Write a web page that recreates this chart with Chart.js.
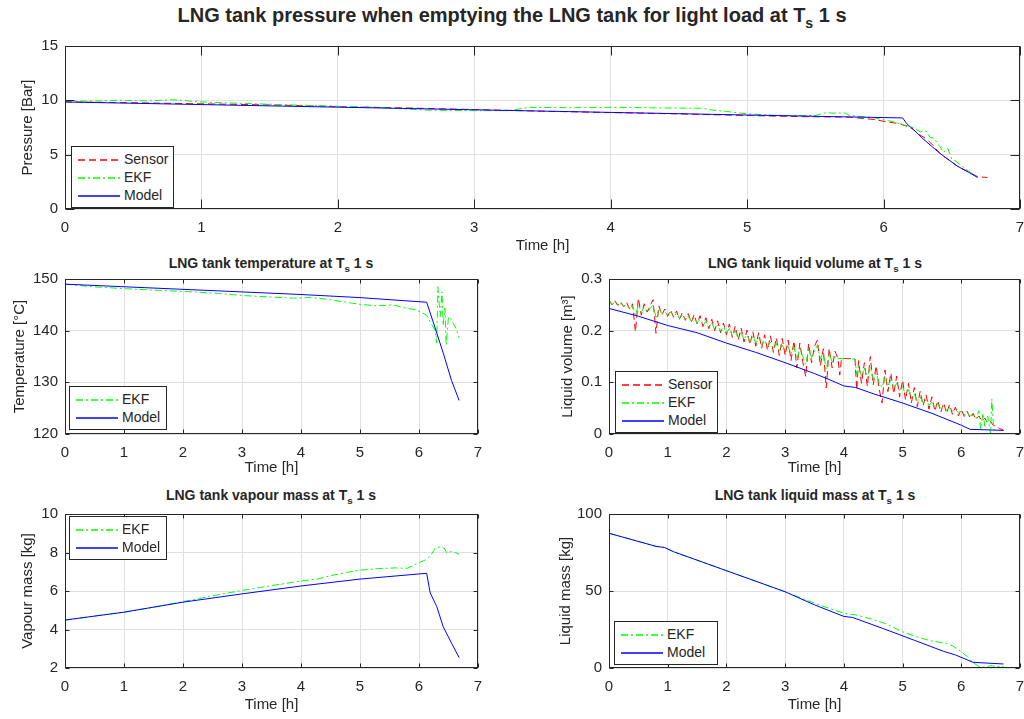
<!DOCTYPE html>
<html lang="en">

<head>
  <meta charset="UTF-8">
  <title>LNG tank pressure when emptying the LNG tank</title>
  <style>
    body {
      margin: 0;
      background: #fff;
      color: #262626;
      font-family: 'Liberation Sans', Arial, sans-serif;
    }

    .page {
      position: relative;
      width: 1024px;
      height: 719px;
      overflow: hidden;
    }

    canvas {
      position: absolute;
    }

    .ttl {
      position: absolute;
      font-weight: bold;
      white-space: nowrap;
      transform: translateX(-50%);
    }

    .ttl sub {
      font-size: 70%;
      vertical-align: -0.4em;
      line-height: 0;
    }

    .lg {
      position: absolute;
      box-sizing: border-box;
      background: #fff;
      border: 1px solid #262626;
      padding: 3px 0 3px 6px;
      font-size: 14px;
    }

    .lg div {
      height: 18px;
      line-height: 18px;
      white-space: nowrap;
    }

    .lg svg {
      vertical-align: middle;
      margin-right: 4px;
    }
  </style>
  <script src="https://cdn.jsdelivr.net/npm/chart.js@4.4.4/dist/chart.umd.js"></script>
</head>

<body>
  <div class="page" id="page">
    <div class="ttl" style="left:512px; top:5px; font-size:20px; line-height:20px;">LNG tank pressure when emptying the LNG tank for light load at T<sub>s</sub> 1 s</div>
    <div class="ttl" style="left:271px; top:256px; font-size:14px; line-height:14px;">LNG tank temperature at T<sub>s</sub> 1 s</div>
    <div class="ttl" style="left:815px; top:256px; font-size:14px; line-height:14px;">LNG tank liquid volume at T<sub>s</sub> 1 s</div>
    <div class="ttl" style="left:271px; top:488px; font-size:14px; line-height:14px;">LNG tank vapour mass at T<sub>s</sub> 1 s</div>
    <div class="ttl" style="left:815px; top:488px; font-size:14px; line-height:14px;">LNG tank liquid mass at T<sub>s</sub> 1 s</div>

    <canvas id="c_press" width="1024" height="232" style="left:0; top:30px;"></canvas>
    <canvas id="c_temp" width="490" height="218" style="left:0; top:262px;"></canvas>
    <canvas id="c_vol" width="484" height="218" style="left:540px; top:262px;"></canvas>
    <canvas id="c_vap" width="490" height="222" style="left:0; top:497px;"></canvas>
    <canvas id="c_liq" width="484" height="222" style="left:540px; top:497px;"></canvas>
  </div>
</body>
<script>
  // ---- data (hours / values) ----
  const xTicks = [0, 1, 2, 3, 4, 5, 6, 7];

  // pressure [Bar]
  const pSensorH = [0, 0.5, 1, 1.5, 2, 2.5, 3, 3.5, 4, 4.5, 5, 5.4, 5.75, 5.93, 6.03, 6.12, 6.21, 6.25, 6.32, 6.37, 6.41, 6.47, 6.54, 6.61, 6.69, 6.76];
  const pSensorV = [9.85, 9.78, 9.68, 9.58, 9.42, 9.3, 9.15, 9.0, 8.87, 8.75, 8.6, 8.5, 8.45, 8.24, 8.0, 7.85, 7.4, 6.95, 6.4, 5.75, 5.15, 4.6, 3.95, 3.5, 2.97, 2.9];
  const pEkfH = [0, 0.2, 0.4, 0.6, 0.8, 1.0, 1.3, 1.6, 2.0, 2.3, 2.65, 3.0, 3.25, 3.4, 3.7, 4.0, 4.3, 4.66, 4.75, 4.85, 5.0, 5.2, 5.5, 5.56, 5.72, 5.75, 5.93, 6.08, 6.14, 6.2, 6.27, 6.31, 6.34, 6.37, 6.41, 6.44, 6.47, 6.5, 6.53, 6.6, 6.69];
  const pEkfV = [9.9, 9.93, 10.0, 9.95, 10.05, 9.85, 9.72, 9.6, 9.45, 9.35, 9.1, 9.05, 9.05, 9.35, 9.32, 9.36, 9.31, 9.27, 9.1, 8.97, 8.76, 8.62, 8.6, 8.83, 8.83, 8.6, 8.4, 8.0, 7.75, 7.6, 7.1, 7.2, 6.6, 6.5, 5.8, 5.2, 5.6, 4.6, 4.4, 3.7, 2.9];
  const pModelH = [0, 1, 2, 3, 4, 5, 6.14, 6.17, 6.22, 6.29, 6.35, 6.41, 6.48, 6.54, 6.62, 6.69];
  const pModelV = [9.85, 9.61, 9.37, 9.13, 8.89, 8.65, 8.38, 7.85, 7.3, 6.45, 5.8, 5.15, 4.5, 3.95, 3.4, 2.9];

  // temperature
  const tEkfH = [0, 0.48, 1.05, 1.6, 2.18, 2.6, 3.02, 3.5, 3.87, 4.15, 4.44, 4.7, 5.0, 5.29, 5.56, 5.68, 5.96, 6.13, 6.19, 6.27, 6.3, 6.32, 6.36, 6.39, 6.41, 6.44, 6.46, 6.5, 6.55, 6.64, 6.68];
  const tEkfV = [149, 148.5, 148.1, 147.8, 147.5, 147.2, 146.8, 146.5, 146.3, 146.4, 146.1, 145.6, 145.1, 144.8, 145.0, 144.6, 144.0, 143.0, 141.7, 140.1, 137.6, 148.5, 142.7, 147.5, 141.0, 144.4, 137.2, 142.7, 142.1, 140.1, 138.6];
  const tModelH = [0, 1, 2, 3, 4, 5, 6.13, 6.24, 6.41, 6.55, 6.68];
  const tModelV = [149, 148.5, 148.0, 147.5, 147.0, 146.4, 145.5, 141.7, 135.7, 130.4, 126.5];

  // liquid volume [m3]
  const vSensorH = [0, 0.05, 0.1, 0.15, 0.2, 0.25, 0.3, 0.35, 0.4, 0.45, 0.5, 0.55, 0.6, 0.65, 0.7, 0.75, 0.8, 0.85, 0.9, 0.95,
    1, 1.05, 1.1, 1.15, 1.2, 1.25, 1.3, 1.35, 1.4, 1.45, 1.5, 1.55, 1.6, 1.65, 1.7, 1.75, 1.8, 1.85, 1.9, 1.95,
    2, 2.05, 2.1, 2.15, 2.2, 2.25, 2.3, 2.35, 2.4, 2.45, 2.5, 2.55, 2.6, 2.65, 2.7, 2.75, 2.8, 2.85, 2.9, 2.95,
    3, 3.05, 3.1, 3.15, 3.2, 3.25, 3.3, 3.35, 3.4, 3.45, 3.5, 3.55, 3.6, 3.65, 3.7, 3.75, 3.8, 3.85, 3.9, 3.93, 3.96,
    4, 4.05, 4.1, 4.15, 4.19, 4.22, 4.25, 4.3, 4.35, 4.4, 4.45, 4.5, 4.55, 4.6, 4.65, 4.7, 4.75, 4.8, 4.85, 4.9, 4.95,
    5, 5.05, 5.1, 5.15, 5.2, 5.25, 5.3, 5.35, 5.4, 5.45, 5.5, 5.55, 5.6, 5.65, 5.7, 5.75, 5.8, 5.85, 5.9, 5.95,
    6, 6.05, 6.1, 6.15, 6.2, 6.25, 6.3, 6.35, 6.4, 6.45, 6.5, 6.55, 6.6, 6.65, 6.7, 6.75];
  const vSensorV = [0.260, 0.250, 0.258, 0.249, 0.256, 0.246, 0.255, 0.242, 0.252, 0.198, 0.263, 0.230, 0.252, 0.236, 0.248, 0.260, 0.195, 0.248, 0.230, 0.242,
    0.228, 0.240, 0.226, 0.238, 0.222, 0.235, 0.220, 0.233, 0.216, 0.231, 0.213, 0.229, 0.208, 0.225, 0.204, 0.222, 0.200, 0.219, 0.196, 0.215,
    0.192, 0.213, 0.187, 0.209, 0.182, 0.205, 0.178, 0.201, 0.173, 0.198, 0.170, 0.196, 0.166, 0.192, 0.162, 0.190, 0.158, 0.186, 0.152, 0.185,
    0.152, 0.182, 0.142, 0.180, 0.128, 0.176, 0.140, 0.111, 0.175, 0.138, 0.170, 0.182, 0.132, 0.165, 0.089, 0.166, 0.128, 0.160, 0.146, 0.114, 0.146,
    0.146, 0.146, 0.146, 0.146, 0.145, 0.085, 0.142, 0.098, 0.138, 0.092, 0.150, 0.095, 0.132, 0.088, 0.060, 0.124, 0.082, 0.118, 0.078, 0.112, 0.072,
    0.104, 0.066, 0.098, 0.060, 0.090, 0.053, 0.083, 0.055, 0.076, 0.048, 0.072, 0.044, 0.065, 0.042, 0.060, 0.040, 0.057, 0.038, 0.052, 0.035,
    0.048, 0.034, 0.044, 0.031, 0.040, 0.028, 0.035, 0.025, 0.031, 0.021, 0.024, 0.016, 0.016, 0.010, 0.009, 0.001];
  const vEkfH = [0, 0.05, 0.1, 0.15, 0.2, 0.25, 0.3, 0.35, 0.4, 0.45, 0.5, 0.55, 0.6, 0.65, 0.7, 0.75, 0.8, 0.85, 0.9, 0.95,
    1, 1.05, 1.1, 1.15, 1.2, 1.25, 1.3, 1.35, 1.4, 1.45, 1.5, 1.55, 1.6, 1.65, 1.7, 1.75, 1.8, 1.85, 1.9, 1.95,
    2, 2.05, 2.1, 2.15, 2.2, 2.25, 2.3, 2.35, 2.4, 2.45, 2.5, 2.55, 2.6, 2.65, 2.7, 2.75, 2.8, 2.85, 2.9, 2.95,
    3, 3.05, 3.1, 3.15, 3.2, 3.25, 3.3, 3.35, 3.4, 3.45, 3.5, 3.55, 3.6, 3.65, 3.7, 3.75, 3.8, 3.85, 3.9,
    3.96, 4.19, 4.22,
    4.25, 4.3, 4.35, 4.4, 4.45, 4.5, 4.55, 4.6, 4.65, 4.7, 4.75, 4.8, 4.85, 4.9, 4.95, 5, 5.05, 5.1, 5.15, 5.2,
    5.25, 5.3, 5.35, 5.4, 5.45, 5.5, 5.55, 5.6, 5.65, 5.7, 5.75, 5.8, 5.85, 5.9, 5.95, 6, 6.05, 6.1, 6.15, 6.2,
    6.25, 6.3, 6.33, 6.37, 6.4, 6.45, 6.5, 6.52, 6.55, 6.6];
  const vEkfV = [0.257, 0.251, 0.255, 0.249, 0.253, 0.247, 0.251, 0.243, 0.248, 0.230, 0.250, 0.236, 0.246, 0.235, 0.243, 0.250, 0.226, 0.242, 0.233, 0.238,
    0.230, 0.236, 0.228, 0.233, 0.224, 0.230, 0.222, 0.228, 0.218, 0.225, 0.215, 0.222, 0.210, 0.218, 0.207, 0.214, 0.203, 0.211, 0.199, 0.207,
    0.196, 0.204, 0.191, 0.200, 0.187, 0.196, 0.183, 0.192, 0.179, 0.189, 0.176, 0.185, 0.172, 0.182, 0.169, 0.178, 0.165, 0.175, 0.161, 0.172,
    0.160, 0.170, 0.155, 0.168, 0.145, 0.165, 0.150, 0.135, 0.163, 0.148, 0.160, 0.172, 0.145, 0.158, 0.125, 0.155, 0.140, 0.150, 0.146,
    0.146, 0.145, 0.115,
    0.130, 0.112, 0.128, 0.108, 0.130, 0.106, 0.118, 0.100, 0.090, 0.108, 0.094, 0.104, 0.090, 0.098, 0.084, 0.092, 0.076, 0.086, 0.070, 0.078,
    0.062, 0.072, 0.060, 0.066, 0.055, 0.062, 0.052, 0.058, 0.049, 0.054, 0.046, 0.051, 0.044, 0.047, 0.041, 0.044, 0.038, 0.041, 0.035, 0.036,
    0.030, 0.045, 0.010, 0.040, 0.015, 0.035, 0.000, 0.068, 0.010, 0.004];
  const vModelH = [0, 0.5, 1.0, 1.5, 2.0, 2.5, 3.0, 3.5, 3.8, 4.0, 4.2, 4.5, 5.0, 5.5, 6.0, 6.15, 6.72];
  const vModelV = [0.243, 0.228, 0.21, 0.196, 0.176, 0.158, 0.138, 0.117, 0.103, 0.093, 0.09, 0.078, 0.06, 0.04, 0.017, 0.009, 0.007];

  // vapour mass [kg]
  const mvEkfH = [0, 0.5, 1.0, 1.5, 2.0, 2.5, 3.0, 3.5, 4.0, 4.3, 4.5, 4.8, 5.0, 5.3, 5.6, 5.8, 5.95, 6.1, 6.2, 6.28, 6.35, 6.43, 6.47, 6.55, 6.62, 6.68];
  const mvEkfV = [4.49, 4.7, 4.9, 5.16, 5.45, 5.75, 6.03, 6.28, 6.52, 6.63, 6.8, 6.98, 7.08, 7.16, 7.2, 7.18, 7.4, 7.6, 7.85, 8.25, 8.28, 8.22, 7.98, 8.05, 8.0, 7.9];
  const mvModelH = [0, 1, 2, 3, 4, 5, 6.13, 6.19, 6.3, 6.41, 6.55, 6.68];
  const mvModelV = [4.49, 4.9, 5.42, 5.85, 6.26, 6.62, 6.92, 5.9, 5.2, 4.15, 3.3, 2.54];

  // liquid mass [kg]
  const mlEkfH = [0, 0.8, 0.95, 1.1, 2, 3, 3.5, 4.0, 4.2, 4.5, 4.7, 5.0, 5.3, 5.5, 5.75, 5.85, 6.0, 6.1, 6.2, 6.3, 6.4, 6.5, 6.6, 6.72];
  const mlEkfV = [87.5, 79.0, 78.2, 75.5, 63.2, 49.5, 42.0, 35.5, 34.5, 31.5, 29.0, 23.5, 19.5, 17.5, 16.0, 14.5, 10.5, 7.5, 3.5, 1.0, 0.5, 1.5, 1.0, 1.0];
  const mlModelH = [0, 0.8, 0.95, 1.1, 2, 3, 3.5, 4.0, 4.15, 4.67, 5.2, 5.7, 5.9, 6.2, 6.72];
  const mlModelV = [87.5, 79.0, 78.2, 75.5, 63.2, 49.5, 41.0, 33.5, 32.8, 25.6, 18.0, 10.8, 8.5, 3.7, 2.6];

  // ---- helpers ----
  Chart.defaults.font.family = "'Liberation Sans', Arial, sans-serif";
  Chart.defaults.color = '#262626';

  const AXIS = '#262626';
  const GRID = '#e0e0e0';
  const STYLE = {
    Sensor: { color: '#ff0000', dash: [7, 4] },
    EKF: { color: '#00ff00', dash: [7, 3, 2, 3] },
    Model: { color: '#0000ff', dash: [] }
  };

  const pts = (h, v) => h.map((x, i) => ({ x: x, y: v[i] }));

  function series(label, h, v, order) {
    return { label: label, data: pts(h, v), borderColor: STYLE[label].color, borderDash: STYLE[label].dash, order: order };
  }

  // matlab-ish box with inward ticks
  const frame = {
    id: 'frame',
    afterDatasetsDraw(chart, args, opts) {
      const ctx = chart.ctx;
      const a = chart.chartArea;
      const L = Math.round(a.left) + 0.5, R = Math.round(a.right) - 0.5;
      const T = Math.round(a.top) + 0.5, B = Math.round(a.bottom) - 0.5;
      ctx.save();
      ctx.strokeStyle = AXIS;
      ctx.lineWidth = 1;
      ctx.setLineDash([]);
      ctx.strokeRect(L, T, R - L, B - T);
      ctx.beginPath();
      chart.scales.x.ticks.forEach(t => {
        const px = Math.round(chart.scales.x.getPixelForValue(t.value)) + 0.5;
        ctx.moveTo(px, B); ctx.lineTo(px, B - opts.tick);
        ctx.moveTo(px, T); ctx.lineTo(px, T + opts.tick);
      });
      chart.scales.y.ticks.forEach(t => {
        const py = Math.round(chart.scales.y.getPixelForValue(t.value)) + 0.5;
        ctx.moveTo(L, py); ctx.lineTo(L + opts.tick, py);
        ctx.moveTo(R, py); ctx.lineTo(R - opts.tick, py);
      });
      ctx.stroke();
      ctx.restore();
    }
  };

  // legend box as html, built from the chart's datasets
  function addLegend(chart, box) {
    const lg = document.createElement('div');
    lg.className = 'lg';
    lg.style.left = box.left + 'px';
    lg.style.top = box.top + 'px';
    lg.style.width = box.width + 'px';
    chart.data.datasets.forEach(ds => {
      const st = STYLE[ds.label];
      const row = document.createElement('div');
      row.innerHTML = '<svg width="42" height="4"><line x1="0" y1="2" x2="42" y2="2" stroke="' + st.color +
        '" stroke-width="1.5" stroke-dasharray="' + (st.dash.length ? st.dash.join(' ') : 'none') + '"/></svg>' + ds.label;
      lg.appendChild(row);
    });
    document.getElementById('page').appendChild(lg);
  }

  function makeChart(id, c) {
    const chart = new Chart(document.getElementById(id), {
      type: 'line',
      data: { datasets: c.sets },
      options: {
        responsive: false,
        animation: false,
        datasets: { line: { borderWidth: 1, pointRadius: 0, tension: 0, fill: false } },
        layout: { padding: c.pad },
        plugins: {
          legend: { display: false },
          tooltip: { enabled: false },
          frame: { tick: c.tick }
        },
        scales: {
          x: {
            type: 'linear', min: 0, max: 7,
            afterBuildTicks: s => { s.ticks = xTicks.map(v => ({ value: v })); },
            ticks: { padding: 10, maxRotation: 0, autoSkip: false, font: { size: 15 } },
            grid: { color: GRID, drawTicks: false },
            border: { display: false },
            title: { display: true, text: 'Time [h]', font: { size: 15 }, padding: { top: 0, bottom: c.xTitlePad } },
            afterFit: s => { s.height = c.xH; s.paddingLeft = 0; s.paddingRight = 0; }
          },
          y: {
            type: 'linear', min: c.yMin, max: c.yMax,
            ticks: { stepSize: c.yStep, padding: 7, font: { size: 15 } },
            grid: { color: GRID, drawTicks: false },
            border: { display: false },
            title: { display: true, text: c.yTitle, font: { size: 15 }, padding: { top: c.yTitlePad, bottom: 0 } },
            afterFit: s => { s.width = c.yW; }
          }
        }
      },
      plugins: [frame]
    });
    addLegend(chart, c.legend);
  }

  makeChart('c_press', {
    sets: [series('Sensor', pSensorH, pSensorV, 3), series('EKF', pEkfH, pEkfV, 2), series('Model', pModelH, pModelV, 1)],
    pad: { left: 0, right: 4, top: 12, bottom: 0 }, tick: 9,
    xH: 53, xTitlePad: 7, yW: 65, yTitlePad: 19,
    yMin: 0, yMax: 15, yStep: 5, yTitle: 'Pressure [Bar]',
    legend: { left: 71, top: 146, width: 103 }
  });

  makeChart('c_temp', {
    sets: [series('EKF', tEkfH, tEkfV, 2), series('Model', tModelH, tModelV, 1)],
    pad: { left: 0, right: 12, top: 17, bottom: 0 }, tick: 4,
    xH: 46, xTitlePad: 3, yW: 65, yTitlePad: 11,
    yMin: 120, yMax: 150, yStep: 10, yTitle: 'Temperature [°C]',
    legend: { left: 69, top: 386, width: 98 }
  });

  makeChart('c_vol', {
    sets: [series('Sensor', vSensorH, vSensorV, 3), series('EKF', vEkfH, vEkfV, 2), series('Model', vModelH, vModelV, 1)],
    pad: { left: 0, right: 4, top: 17, bottom: 0 }, tick: 4,
    xH: 46, xTitlePad: 3, yW: 69, yTitlePad: 19,
    yMin: 0, yMax: 0.3, yStep: 0.1, yTitle: 'Liquid volume [m³]',
    legend: { left: 615, top: 371, width: 103 }
  });

  makeChart('c_vap', {
    sets: [series('EKF', mvEkfH, mvEkfV, 2), series('Model', mvModelH, mvModelV, 1)],
    pad: { left: 0, right: 12, top: 17, bottom: 0 }, tick: 4,
    xH: 51, xTitlePad: 5, yW: 65, yTitlePad: 19,
    yMin: 2, yMax: 10, yStep: 2, yTitle: 'Vapour mass [kg]',
    legend: { left: 69, top: 516, width: 98 }
  });

  makeChart('c_liq', {
    sets: [series('EKF', mlEkfH, mlEkfV, 2), series('Model', mlModelH, mlModelV, 1)],
    pad: { left: 0, right: 4, top: 17, bottom: 0 }, tick: 4,
    xH: 51, xTitlePad: 5, yW: 69, yTitlePad: 17,
    yMin: 0, yMax: 100, yStep: 50, yTitle: 'Liquid mass [kg]',
    legend: { left: 614, top: 621, width: 104 }
  });
</script>

</html>
